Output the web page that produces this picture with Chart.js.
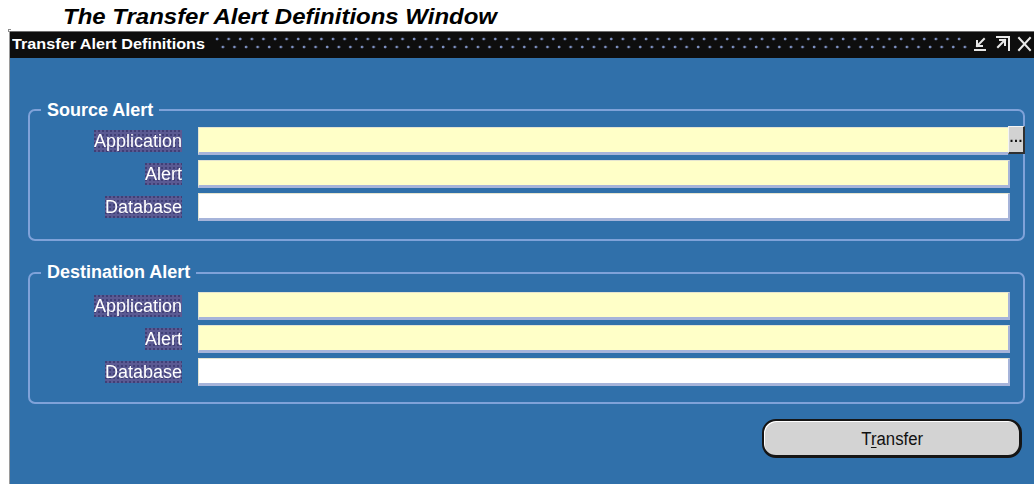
<!DOCTYPE html>
<html>
<head>
<meta charset="utf-8">
<script src="https://cdn.jsdelivr.net/npm/chart.js@4/dist/chart.umd.min.js"></script>
<style>
  html,body{margin:0;padding:0;background:#fff;}
  body{width:1034px;height:484px;position:relative;overflow:hidden;font-family:"Liberation Sans",Arial,sans-serif;}
  .abs{position:absolute;}
  .txt{position:absolute;white-space:nowrap;}
  #bg{position:absolute;left:10px;top:58px;}
  .group{position:absolute;border:2px solid #7fa2d9;border-radius:7px;box-sizing:border-box;}
  .legend{position:absolute;background:#3070aa;color:#fff;font-weight:bold;font-size:18px;line-height:22px;padding:0 6px;white-space:nowrap;}
  .field{position:absolute;box-sizing:border-box;border-bottom:3px solid #a6b4da;border-right:2px solid #a6b4da;border-top:1px solid #e4e4d0;border-left:1px solid #e4e4d0;}
  .lbl{position:absolute;color:#fff;font-size:18px;line-height:22px;height:22px;white-space:nowrap;
       background-color:#5b5a93;
       background-image:radial-gradient(circle at 1px 1px,#403f76 0.8px,transparent 1.1px);
       background-size:4px 4px;}
  #titlebar{position:absolute;left:10px;top:31px;width:1024px;height:27px;background:#0e0e0e;border-top:1px solid #6d6d6d;box-sizing:border-box;}
  #dots{position:absolute;left:214px;top:35px;width:754px;height:16px;
        background-image:radial-gradient(circle at 3px 4px,#7f92c4 1.1px,transparent 1.7px),radial-gradient(circle at 8.8px 12px,#7f92c4 1.1px,transparent 1.7px);
        background-size:11.6px 16px,11.6px 16px;}
  #btn{position:absolute;left:762px;top:419px;width:260px;height:39px;box-sizing:border-box;background:#d3d3d3;border:2px solid #151515;border-right-width:3px;border-bottom-width:3px;border-radius:14px;box-shadow:inset 1px 1px 0 #ffffff;}
  #ell{position:absolute;left:1008px;top:126px;width:17px;height:28px;box-sizing:border-box;background:#d2d2d2;border-top:1px solid #f4f4f4;border-left:1px solid #f4f4f4;border-right:2px solid #303030;border-bottom:2px solid #303030;}
</style>
</head>
<body>
<canvas id="bg" width="1024" height="426"></canvas>
<div id="root"></div>
<script>
// ---- content ----
const pageTitle = "The Transfer Alert Definitions Window";
const windowTitle = "Transfer Alert Definitions";
const groupNames = ["Source Alert", "Destination Alert"];
const fieldLabels = ["Application", "Alert", "Database"];
const fieldRequired = [true, true, false];
const buttonLabel = "Transfer";
const buttonMnemonicIndex = 1;

// ---- background window panel drawn by Chart.js ----
const panelPlugin = {
  id: 'panel',
  beforeDraw(chart) {
    const c = chart.ctx;
    c.save();
    c.fillStyle = '#3070aa';
    c.fillRect(0, 0, chart.width, chart.height);
    c.restore();
  }
};
new Chart(document.getElementById('bg'), {
  type: 'bar',
  data: { labels: [], datasets: [] },
  options: {
    responsive: false, animation: false, events: [],
    layout: { padding: 0 },
    plugins: { legend: { display: false }, tooltip: { enabled: false }, title: { display: false } },
    scales: { x: { display: false }, y: { display: false } }
  },
  plugins: [panelPlugin]
});

// ---- layout helpers ----
const root = document.getElementById('root');
function el(tag, cls, style, text) {
  const e = document.createElement(tag);
  if (cls) e.className = cls;
  Object.assign(e.style, style || {});
  if (text !== undefined) e.textContent = text;
  root.appendChild(e);
  return e;
}
// place text by baseline (Liberation Sans metrics) and scale to width
function textAt(str, x, baseline, size, weight, style, color, width, align) {
  const L = Math.round(size * 1.2);
  const off = (L - 1.117 * size) / 2 + 0.905 * size;
  const e = el('div', 'txt', {
    top: (baseline - off) + 'px', fontSize: size + 'px', lineHeight: L + 'px',
    fontWeight: weight, fontStyle: style, color: color
  }, str);
  const w = e.getBoundingClientRect().width;
  const s = width ? width / w : 1;
  if (align === 'center') {
    e.style.left = (x - w / 2) + 'px'; e.style.transformOrigin = '50% 50%';
  } else if (align === 'right') {
    e.style.left = (x - w) + 'px'; e.style.transformOrigin = '100% 50%';
  } else {
    e.style.left = x + 'px'; e.style.transformOrigin = '0 50%';
  }
  e.style.transform = 'scaleX(' + s + ')';
  return e;
}

// page title
textAt(pageTitle, 63, 25, 22, 'bold', 'italic', '#000', 434, 'left');

// window frame
el('div', 'abs', { left: '9px', top: '31px', width: '1px', height: '453px', background: '#9a9a9a' });
el('div', 'abs', { left: '8px', top: '29px', width: '3px', height: '1px', background: '#8a8a8a' });
el('div', 'abs', { left: '8px', top: '29px', width: '1px', height: '3px', background: '#8a8a8a' });
const tb = document.createElement('div'); tb.id = 'titlebar'; root.appendChild(tb);
const dots = document.createElement('div'); dots.id = 'dots'; root.appendChild(dots);
textAt(windowTitle, 12, 49.5, 15, 'bold', 'normal', '#fff', 193, 'left');

// title bar icons
const svgNS = 'http://www.w3.org/2000/svg';
const svg = document.createElementNS(svgNS, 'svg');
svg.setAttribute('width', '70'); svg.setAttribute('height', '27');
svg.style.position = 'absolute'; svg.style.left = '964px'; svg.style.top = '31px';
svg.innerHTML =
  '<g stroke="#e8e8e8" stroke-width="2" fill="none" stroke-linecap="square">' +
  '<line x1="20" y1="8" x2="13" y2="15"/><polyline points="13,10 13,15 18,15"/><line x1="11" y1="19" x2="21" y2="19"/>' +
  '<line x1="34" y1="16" x2="41" y2="9"/><polyline points="36,9 41,9 41,14"/><line x1="33" y1="6" x2="44" y2="6"/><line x1="45" y1="6" x2="45" y2="19"/>' +
  '<line x1="55" y1="7" x2="66" y2="19"/><line x1="66" y1="7" x2="55" y2="19"/>' +
  '</g>';
root.appendChild(svg);

// groups
const groupTops = [109, 272];
const groupLegendBase = [116, 278.7];
const fieldTops = [[127, 160, 193], [291.5, 324.5, 357.5]];
groupNames.forEach((g, gi) => {
  el('div', 'group', { left: '28px', top: groupTops[gi] + 'px', width: '997px', height: '132px' });
  const lg = el('div', 'legend', {}, g);
  const off = (22 - 1.117 * 18) / 2 + 0.905 * 18;
  lg.style.left = '41px';
  lg.style.top = (groupLegendBase[gi] - off) + 'px';
  fieldLabels.forEach((lab, fi) => {
    const top = fieldTops[gi][fi];
    const right = (gi === 0 && fi === 0) ? 1008 : 1010;
    el('div', 'field', {
      left: '198px', top: top + 'px', width: (right - 198) + 'px', height: '28px',
      background: fieldRequired[fi] ? '#ffffc8' : '#ffffff',
      borderRight: (gi === 0 && fi === 0) ? 'none' : undefined
    });
    const lb = el('div', 'lbl', { top: (top + 3) + 'px' }, lab);
    const w = lb.getBoundingClientRect().width;
    lb.style.left = (182 - w) + 'px';
  });
});

// list-of-values button
const ell = document.createElement('div'); ell.id = 'ell'; root.appendChild(ell);
el('div', 'txt', { left: '1008px', top: '128px', width: '15px', textAlign: 'center', fontSize: '14px', fontWeight: 'bold', lineHeight: '18px', color: '#111', letterSpacing: '-1px' }, '\u2026');

// Transfer button
const btn = document.createElement('div'); btn.id = 'btn'; root.appendChild(btn);
const bt = textAt(buttonLabel, 892, 445, 18, 'normal', 'normal', '#111', 61.7, 'center');
bt.innerHTML = buttonLabel.slice(0, buttonMnemonicIndex) +
  '<span style="text-decoration:underline;text-underline-offset:2px">' + buttonLabel[buttonMnemonicIndex] + '</span>' +
  buttonLabel.slice(buttonMnemonicIndex + 1);
</script>
</body>
</html>
